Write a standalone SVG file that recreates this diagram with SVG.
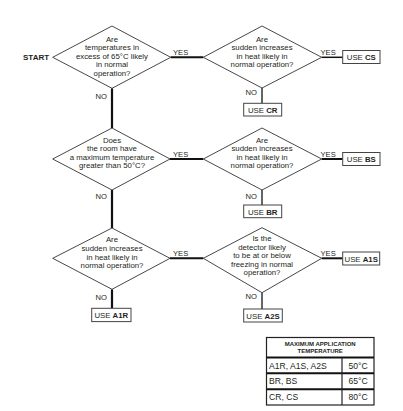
<svg xmlns="http://www.w3.org/2000/svg" width="403" height="411" viewBox="0 0 403 411">
<style>
text{font-family:"Liberation Sans",Arial,sans-serif;fill:#231f20}
.q{font-size:7.8px;text-anchor:middle}
.lbl{font-size:7.6px}
.use{font-size:7.8px;text-anchor:middle}
.b{font-weight:bold}
.dia{fill:#fff;stroke:#333;stroke-width:0.9}
.box{fill:#fff;stroke:#444;stroke-width:1}
.c{stroke:#111;fill:none}
.t{font-size:8.6px}
</style>
<rect width="403" height="411" fill="#fff"/>
<g id="connectors">
<line class="c" x1="170.7" y1="57.3" x2="203.3" y2="57.3" stroke-width="2"/>
<line class="c" x1="321.7" y1="57.3" x2="342.7" y2="57.3" stroke-width="1.5"/>
<line class="c" x1="262" y1="88" x2="262" y2="103.3" stroke-width="1.3"/>
<line class="c" x1="112" y1="88.3" x2="112" y2="128" stroke-width="2.2"/>
<line class="c" x1="170" y1="159" x2="203.3" y2="159" stroke-width="2"/>
<line class="c" x1="321.7" y1="159" x2="342.7" y2="159" stroke-width="2"/>
<line class="c" x1="262" y1="190" x2="262" y2="205" stroke-width="1.3"/>
<line class="c" x1="112" y1="190" x2="112" y2="228" stroke-width="2.2"/>
<line class="c" x1="170" y1="258.3" x2="203.3" y2="258.3" stroke-width="2"/>
<line class="c" x1="321.7" y1="258.3" x2="342.7" y2="258.3" stroke-width="2"/>
<line class="c" x1="262" y1="292.7" x2="262" y2="309" stroke-width="1.3"/>
<line class="c" x1="112" y1="289.3" x2="112" y2="308.3" stroke-width="2.2"/>
<text class="lbl" x="173" y="54.5">YES</text>
<text class="lbl" x="320.5" y="54.5">YES</text>
<text class="lbl" x="245.5" y="95">NO</text>
<text class="lbl" x="95.5" y="98.5">NO</text>
<text class="lbl" x="173" y="156.5">YES</text>
<text class="lbl" x="320.5" y="156.5">YES</text>
<text class="lbl" x="245.5" y="198.5">NO</text>
<text class="lbl" x="95.5" y="198.5">NO</text>
<text class="lbl" x="173" y="256">YES</text>
<text class="lbl" x="320.5" y="256">YES</text>
<text class="lbl" x="245.5" y="299">NO</text>
<text class="lbl" x="95.5" y="299.5">NO</text>
</g>
<g id="start"><text x="23" y="60" font-size="8px" class="b">START</text></g>
<g id="d1">
<polygon class="dia" points="112,26 170.7,57.3 112,88.3 52.7,57.3"/>
<text class="q" x="112" y="42">Are</text>
<text class="q" x="112" y="50.4">temperatures in</text>
<text class="q" x="112" y="58.8">excess of 65°C likely</text>
<text class="q" x="112" y="67.2">in normal</text>
<text class="q" x="112" y="75.6">operation?</text>
</g>
<g id="d2">
<polygon class="dia" points="262,26 321.7,57.3 262,88 203.3,57.3"/>
<text class="q" x="262" y="42">Are</text>
<text class="q" x="262" y="50.4">sudden increases</text>
<text class="q" x="262" y="58.8">in heat likely in</text>
<text class="q" x="262" y="67.2">normal operation?</text>
</g>
<g id="d3">
<polygon class="dia" points="112,128 170,159 112,190 52.7,159"/>
<text class="q" x="112" y="143">Does</text>
<text class="q" x="112" y="151.4">the room have</text>
<text class="q" x="112" y="159.8">a maximum temperature</text>
<text class="q" x="112" y="168.2">greater than 50°C?</text>
</g>
<g id="d4">
<polygon class="dia" points="262,128 321.7,159 262,190 203.3,159"/>
<text class="q" x="262" y="143">Are</text>
<text class="q" x="262" y="151.4">sudden increases</text>
<text class="q" x="262" y="159.8">in heat likely in</text>
<text class="q" x="262" y="168.2">normal operation?</text>
</g>
<g id="d5">
<polygon class="dia" points="112,228 170,258.3 112,289.3 52.7,258.3"/>
<text class="q" x="112" y="242.3">Are</text>
<text class="q" x="112" y="250.9">sudden increases</text>
<text class="q" x="112" y="259.5">in heat likely in</text>
<text class="q" x="112" y="268">normal operation?</text>
</g>
<g id="d6">
<polygon class="dia" points="262,227.7 321.7,258.3 262,292.7 203.3,258.3"/>
<text class="q" x="262" y="241.3">Is the</text>
<text class="q" x="262" y="249.8">detector likely</text>
<text class="q" x="262" y="258.3">to be at or below</text>
<text class="q" x="262" y="266.8">freezing in normal</text>
<text class="q" x="262" y="275.3">operation?</text>
</g>
<g id="cs"><rect class="box" x="342.7" y="50.5" width="37.3" height="13"/><text class="use" x="361.3" y="60">USE <tspan class="b">CS</tspan></text></g>
<g id="cr"><rect class="box" x="243.7" y="103.3" width="38" height="12.7"/><text class="use" x="262.7" y="112.8">USE <tspan class="b">CR</tspan></text></g>
<g id="bs"><rect class="box" x="342.7" y="152.5" width="37.3" height="13"/><text class="use" x="361.3" y="162">USE <tspan class="b">BS</tspan></text></g>
<g id="br"><rect class="box" x="243.7" y="205" width="38" height="12.7"/><text class="use" x="262.7" y="214.5">USE <tspan class="b">BR</tspan></text></g>
<g id="a1s"><rect class="box" x="342.7" y="252" width="37" height="13"/><text class="use" x="361.2" y="261.5">USE <tspan class="b">A1S</tspan></text></g>
<g id="a2s"><rect class="box" x="243.7" y="309" width="38.6" height="13"/><text class="use" x="263" y="318.5">USE <tspan class="b">A2S</tspan></text></g>
<g id="a1r"><rect class="box" x="91.7" y="308.3" width="39.3" height="13.3"/><text class="use" x="111.3" y="318">USE <tspan class="b">A1R</tspan></text></g>
<g id="table">
<rect x="266.5" y="337.5" width="107.5" height="67.5" fill="#fff" stroke="#222" stroke-width="1.2"/>
<line x1="266.5" y1="357.5" x2="374" y2="357.5" stroke="#111" stroke-width="2"/>
<line x1="266.5" y1="373.3" x2="374" y2="373.3" stroke="#111" stroke-width="2"/>
<line x1="266.5" y1="389.2" x2="374" y2="389.2" stroke="#111" stroke-width="2"/>
<line x1="342" y1="357.5" x2="342" y2="405" stroke="#222" stroke-width="1.2"/>
<text x="320.2" y="346.3" font-size="6px" class="b" text-anchor="middle">MAXIMUM APPLICATION</text>
<text x="320.2" y="353.3" font-size="6px" class="b" text-anchor="middle">TEMPERATURE</text>
<text class="t" x="269" y="368.5">A1R, A1S, A2S</text>
<text class="t" x="269" y="384.3">BR, BS</text>
<text class="t" x="269" y="400.2">CR, CS</text>
<text class="t" x="358" y="368.5" text-anchor="middle">50°C</text>
<text class="t" x="358" y="384.3" text-anchor="middle">65°C</text>
<text class="t" x="358" y="400.2" text-anchor="middle">80°C</text>
</g>
</svg>
